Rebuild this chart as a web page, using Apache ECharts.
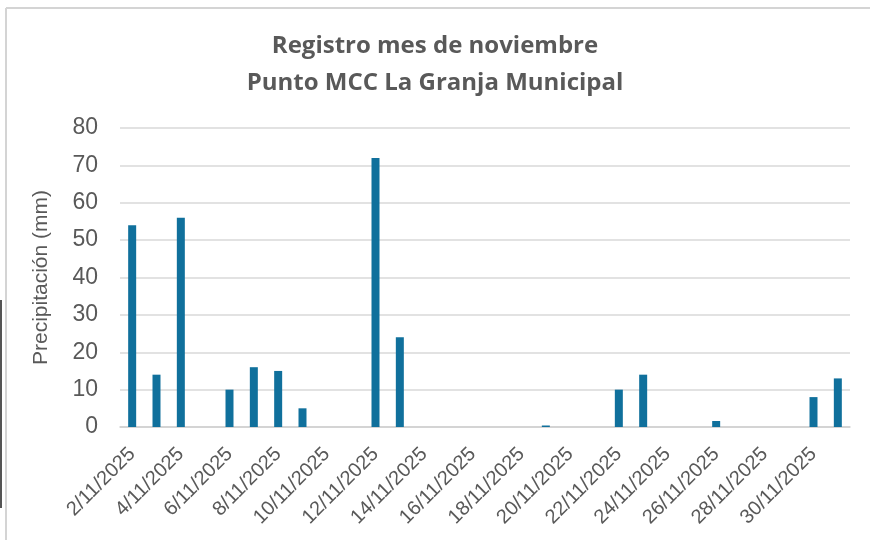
<!DOCTYPE html>
<html>
<head>
<meta charset="UTF-8">
<title>Registro noviembre</title>
<script src="https://cdn.jsdelivr.net/npm/echarts@6/dist/echarts.min.js"></script>
<style>
  html, body { margin: 0; padding: 0; background: #fff; }
  #container { width: 870px; height: 540px; }
</style>
</head>
<body>
	<div id="container"></div>
	<script type="text/javascript">
	// fechas: 2/11/2025 ... 1/12/2025
	var fechas = ['2/11/2025','3/11/2025','4/11/2025','5/11/2025','6/11/2025','7/11/2025','8/11/2025',
		'9/11/2025','10/11/2025','11/11/2025','12/11/2025','13/11/2025','14/11/2025','15/11/2025',
		'16/11/2025','17/11/2025','18/11/2025','19/11/2025','20/11/2025','21/11/2025','22/11/2025',
		'23/11/2025','24/11/2025','25/11/2025','26/11/2025','27/11/2025','28/11/2025','29/11/2025',
		'30/11/2025','1/12/2025'];

	// precipitación diaria (mm)
	var precipitacion = [54, 14, 56, 0, 10, 16, 15, 5, 0, 0, 72, 24, 0, 0, 0, 0, 0, 0.4, 0, 0,
		10, 14, 0, 0, 1.6, 0, 0, 0, 8, 13];

	var titulo = ['Registro mes de noviembre', 'Punto MCC La Granja Municipal'];
	var ejeY = 'Precipitación (mm)';

	var dom = document.getElementById("container");
	var myChart = echarts.init(dom);

	var option = {
		animation: false,
		backgroundColor: '#fff',
		title: {
			text: titulo.join('\n'),
			left: 'center',
			top: 23,
			textStyle: {
				fontFamily: 'Open Sans',
				fontSize: 24,
				fontWeight: 'bold',
				color: '#595959',
				lineHeight: 37
			}
		},
		graphic: [
			{
				type: 'line',
				shape: { x1: 6, y1: 8, x2: 870, y2: 8 },
				style: { stroke: '#d4d4d4', lineWidth: 2 }
			},
			{
				type: 'line',
				shape: { x1: 6, y1: 8, x2: 6, y2: 540 },
				style: { stroke: '#d4d4d4', lineWidth: 2 }
			},
			{
				type: 'line',
				shape: { x1: 1, y1: 300, x2: 1, y2: 508 },
				style: { stroke: '#555', lineWidth: 2 }
			}
		],
		grid: {
			left: 120,
			right: 20,
			top: 128,
			bottom: 113
		},
		xAxis: {
			type: 'category',
			data: fechas,
			axisLine: { lineStyle: { color: '#d0d0d0', width: 1.5 } },
			axisTick: { interval: 1, length: 6, lineStyle: { color: '#d0d0d0', width: 1.5 } },
			axisLabel: {
				interval: 1,
				rotate: 45,
				fontFamily: 'Liberation Sans',
				fontSize: 20,
				color: '#595959',
				margin: 24
			}
		},
		yAxis: {
			type: 'value',
			min: 0,
			max: 80,
			interval: 10,
			name: ejeY,
			nameLocation: 'middle',
			nameGap: 68,
			nameTextStyle: {
				fontFamily: 'Liberation Sans',
				fontSize: 21,
				color: '#595959'
			},
			axisLine: { show: false },
			axisTick: { show: false },
			axisLabel: {
				fontFamily: 'Liberation Sans',
				fontSize: 23,
				color: '#595959',
				margin: 22
			},
			splitLine: { lineStyle: { color: '#d9d9d9', width: 1.5 } }
		},
		series: [
			{
				name: 'Precipitación',
				type: 'bar',
				data: precipitacion,
				barWidth: 8,
				itemStyle: { color: '#10709c' }
			}
		]
	};

	myChart.setOption(option);
    </script>
</body>
</html>
